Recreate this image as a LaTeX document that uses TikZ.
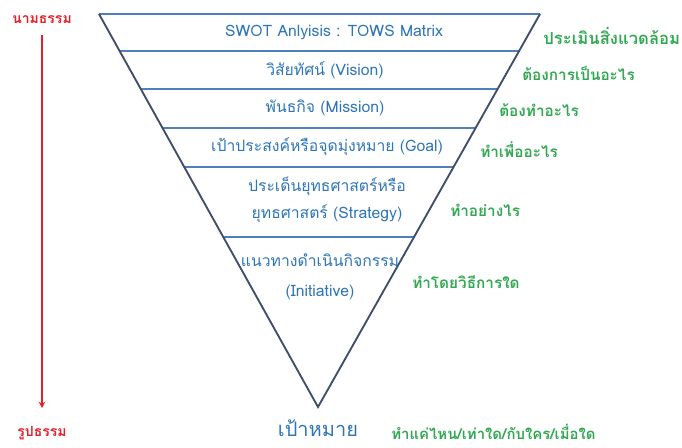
\documentclass[tikz,border=0pt]{standalone}
\usepackage{fontspec}
\setmainfont[Script=Thai]{Loma}
\usetikzlibrary{positioning,calc}
\definecolor{edgeblue}{HTML}{3F4E6B}
\definecolor{lineblue}{HTML}{4F7FBE}
\definecolor{textblue}{HTML}{2E75B6}
\definecolor{askgreen}{HTML}{33A853}
\definecolor{arrowred}{HTML}{E3202A}
\tikzset{%
    level/.style={
      text=textblue,
      align=center,
      font=\fontsize{11.8}{20}\selectfont
    },
    question/.style={
      text=askgreen,
      anchor=west,
      inner xsep=0pt,
      font=\fontsize{11.5}{13}\selectfont\bfseries
    },
    kind/.style={
      text=arrowred,
      font=\fontsize{10.5}{13}\selectfont\bfseries
    },
    divider/.style={draw=lineblue, line width=1.5pt},
    side/.style={draw=edgeblue, line width=1.4pt}
  }

\begin{document}
\begin{tikzpicture}[x=0.75pt, y=-0.75pt, >=stealth]
  \useasboundingbox (0,0) rectangle (682,447);

  \coordinate (tl) at (99,14);
  \coordinate (tr) at (540,14);
  \coordinate (apex) at (318,407);

  \foreach \t in {0.0941, 0.1908, 0.2901, 0.3893, 0.5674}
    \draw [divider] ($(tl)!\t!(apex)$) -- ($(tr)!\t!(apex)$);
  \draw [divider] (tl) -- (tr);
  \draw [side] (tl) -- (apex) -- (tr);

  \node [level] (swot) at (334,32) {SWOT Anlyisis : TOWS Matrix};
  \node [level] (vis) at (325,70) {วิสัยทัศน์ (Vision)};
  \node [level] (mis) at (325,108) {พันธกิจ (Mission)};
  \node [level] (goal) at (327,147) {เป้าประสงค์หรือจุดมุ่งหมาย (Goal)};
  \node [level] (strat) at (327,200) {ประเด็นยุทธศาสตร์หรือ\\ยุทธศาสตร์ (Strategy)};
  \node [level, font=\fontsize{11.8}{22.5}\selectfont] (init) at (320,277) {แนวทางดำเนินกิจกรรม\\(Initiative)};

  \node [level, font=\fontsize{15}{18}\selectfont] (target) at (318,428) {เป้าหมาย};

  \node [question, font=\fontsize{12.5}{13}\selectfont\bfseries] (q1) at (543,36) {ประเมินสิ่งแวดล้อม};
  \node [question] (q2) at (522,73) {ต้องการเป็นอะไร};
  \node [question] (q3) at (499,110) {ต้องทำอะไร};
  \node [question] (q4) at (480,150) {ทำเพื่ออะไร};
  \node [question] (q5) at (450,210) {ทำอย่างไร};
  \node [question] (q6) at (412,282) {ทำโดยวิธีการใด};
  \node [question, font=\fontsize{11.2}{13}\selectfont\bfseries] (q7) at (391,432) {ทำแค่ไหน/เท่าใด/กับใคร/เมื่อใด};

  \node [kind] (abs) at (42,20) {นามธรรม};
  \node [kind] (con) at (42,433) {รูปธรรม};
  \draw [->, draw=arrowred, line width=1.2pt, shorten <=5pt, shorten >=10pt] (abs) -- (con);
\end{tikzpicture}
\end{document}
